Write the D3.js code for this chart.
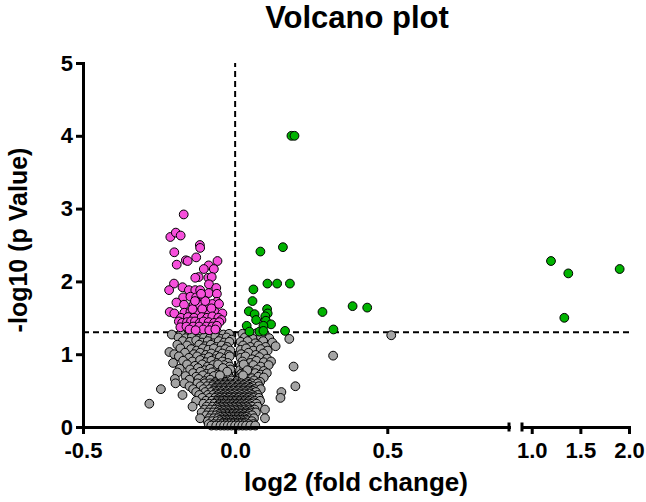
<!DOCTYPE html>
<html><head><meta charset="utf-8">
<script src="https://cdn.jsdelivr.net/npm/d3@7"></script>
<style>
body{margin:0;background:#fff}
svg{display:block}
text{font-family:"Liberation Sans",Arial,sans-serif;font-weight:bold;fill:#000}
</style>
</head><body>
<svg id="c" width="646" height="502"></svg>
<script>
// ---------- data ----------
const xTicksLeft = [-0.5, 0.0, 0.5];
const xTickLabelsLeft = ["-0.5", "0.0", "0.5"];
const xTicksRight = [1.0, 1.5, 2.0];
const xTickLabelsRight = ["1.0", "1.5", "2.0"];
const yTicks = [0, 1, 2, 3, 4, 5];
const yTickLabels = ["0", "1", "2", "3", "4", "5"];
const pThreshold = 1.301; // -log10(0.05)
const fcThreshold = 0.0;

// grey (not significant), upper part: [log2 FC, -log10 p]
const grayUpper = [
 [-0.208,1.27],[-0.178,1.28],[-0.152,1.26],[-0.131,1.29],[-0.112,1.27],[-0.093,1.28],[-0.074,1.26],[-0.056,1.29],[-0.038,1.27],[-0.02,1.28],
 [0.024,1.28],[0.046,1.26],[0.071,1.29],[0.098,1.27],
 [-0.186,1.23],[-0.163,1.22],[-0.142,1.24],[-0.121,1.21],[-0.102,1.23],[-0.083,1.22],[-0.065,1.24],[-0.047,1.21],[-0.028,1.23],[-0.012,1.2],
 [0.032,1.23],[0.058,1.21],[0.085,1.24],[0.112,1.22],[0.178,1.21],
 [-0.172,1.18],[-0.149,1.17],[-0.128,1.19],[-0.109,1.16],[-0.09,1.18],[-0.072,1.15],[-0.054,1.18],[-0.036,1.16],[-0.019,1.17],
 [0.018,1.17],[0.041,1.18],[0.066,1.15],[0.092,1.18],[0.122,1.16],
 [-0.19,1.13],[-0.158,1.12],[-0.118,1.13],[-0.098,1.11],[-0.08,1.13],[-0.062,1.1],[-0.044,1.12],[-0.026,1.1],
 [0.026,1.12],[0.05,1.1],[0.076,1.12],[0.1,1.1],[0.133,1.11],
 [-0.18,1.08],[-0.145,1.07],[-0.126,1.05],[-0.106,1.08],[-0.088,1.06],[-0.07,1.08],[-0.05,1.05],[-0.032,1.07],[-0.016,1.05],
 [0.018,1.06],[0.036,1.08],[0.06,1.05],[0.084,1.07],[0.107,1.05],
 [-0.216,1.03],[-0.2,1.0],[-0.165,1.02],[-0.135,1.0],[-0.115,1.02],[-0.096,0.99],[-0.078,1.01],[-0.06,0.98],[-0.042,1.01],[-0.022,0.99],
 [0.02,1.0],[0.044,1.02],[0.068,0.99],[0.092,1.01],
 [-0.185,0.97],[-0.152,0.95],[-0.125,0.97],[-0.105,0.94],[-0.086,0.96],[-0.068,0.93],[-0.05,0.96],[-0.032,0.94],[-0.018,0.97],
 [0.018,0.95],[0.034,0.97],[0.056,0.93],[0.08,0.96],[0.105,0.94],
 [-0.171,0.91],[-0.14,0.9],[-0.115,0.92],[-0.096,0.89],[-0.078,0.91],[-0.06,0.88],[-0.042,0.9],[-0.024,0.88],
 [0.024,0.9],[0.05,0.88],[0.07,0.91],[0.094,0.89],[0.118,0.9],
 [-0.204,0.88],[-0.158,0.86],[-0.132,0.84],[-0.108,0.86],[-0.09,0.83],[-0.072,0.85],[-0.054,0.82],[-0.036,0.85],[-0.018,0.83],
 [0.018,0.84],[0.038,0.82],[0.06,0.85],[0.084,0.83],[0.11,0.85],[0.192,0.83],
 [-0.182,0.8],[-0.148,0.79],[-0.122,0.81],[-0.1,0.78],[-0.082,0.8],[-0.064,0.77],[-0.046,0.79],[-0.03,0.77],[-0.016,0.79],
 [0.016,0.78],[0.03,0.8],[0.05,0.77],[0.072,0.79],[0.094,0.77],
 [-0.19,0.75],[-0.138,0.74],[-0.114,0.76],[-0.094,0.73],[-0.076,0.75],[-0.058,0.72],[-0.04,0.74],[-0.022,0.72],
 [0.02,0.73],[0.034,0.75],[0.05,0.72],[0.066,0.74],[0.084,0.72],[0.104,0.74],
 [-0.163,0.7],[-0.128,0.69],[-0.106,0.71],[-0.088,0.68],[-0.07,0.7],[-0.052,0.67],[-0.034,0.69],[-0.016,0.67],
 [0.018,0.68],[0.036,0.7],[0.056,0.67],[0.076,0.69],[0.094,0.68],
 [-0.198,0.66],[-0.15,0.65],[-0.12,0.66],[-0.1,0.63],[-0.082,0.65],[-0.064,0.62],[-0.046,0.64],[-0.03,0.62],[-0.012,0.64],
 [0.006,0.63],[0.024,0.65],[0.042,0.62],[0.062,0.64],[0.082,0.62],
 [-0.056,0.86],[-0.04,0.81],[-0.026,0.76],[-0.05,0.71],[0.028,0.86],[0.04,0.78],[0.026,0.71],
 [0.513,1.26],[0.322,0.98]
];
// grey (not significant), dense lower core: rows of [ -log10 p , [log2 FC ...] ]
const grayCoreRows = [
 [0.60, [-0.196,-0.167,-0.124,-0.1,-0.082,-0.066,-0.048,-0.032,-0.016,0.002,0.02,0.036,0.054,0.074]],
 [0.58, [-0.074,-0.056,-0.04,-0.024,-0.008,0.01,0.028,0.046]],
 [0.56, [-0.15,-0.114,-0.092,-0.074,-0.058,-0.042,-0.026,-0.01,0.008,0.024,0.04,0.058,0.078,0.198]],
 [0.54, [-0.066,-0.05,-0.034,-0.018,0.0,0.016,0.032,0.05]],
 [0.52, [-0.244,-0.138,-0.104,-0.084,-0.068,-0.052,-0.036,-0.02,-0.004,0.012,0.028,0.046,0.064,0.084]],
 [0.50, [-0.07,-0.054,-0.038,-0.022,-0.006,0.01,0.026,0.042,0.058]],
 [0.48, [-0.128,-0.098,-0.078,-0.062,-0.046,-0.03,-0.014,0.002,0.018,0.034,0.05,0.068,0.152]],
 [0.46, [-0.064,-0.048,-0.032,-0.016,0.0,0.016,0.032,0.048]],
 [0.44, [-0.173,-0.118,-0.09,-0.072,-0.056,-0.04,-0.025,-0.01,0.006,0.022,0.038,0.056,0.074]],
 [0.42, [-0.062,-0.046,-0.032,-0.018,-0.002,0.014,0.03,0.046,0.062]],
 [0.40, [-0.108,-0.084,-0.066,-0.05,-0.035,-0.02,-0.005,0.01,0.026,0.042,0.06,0.078,0.149]],
 [0.38, [-0.058,-0.042,-0.028,-0.012,0.004,0.02,0.036,0.052]],
 [0.36, [-0.128,-0.096,-0.076,-0.06,-0.044,-0.03,-0.015,0.0,0.015,0.03,0.046,0.064,0.082]],
 [0.34, [-0.06,-0.046,-0.03,-0.016,-0.002,0.012,0.028,0.042,0.058]],
 [0.32, [-0.282,-0.104,-0.084,-0.068,-0.052,-0.038,-0.022,-0.008,0.006,0.02,0.036,0.052,0.07]],
 [0.30, [-0.054,-0.04,-0.026,-0.012,0.002,0.016,0.03,0.046]],
 [0.28, [-0.14,-0.094,-0.074,-0.058,-0.044,-0.03,-0.016,-0.002,0.012,0.026,0.04,0.056,0.074]],
 [0.26, [-0.056,-0.042,-0.028,-0.014,0.0,0.014,0.028,0.044]],
 [0.24, [-0.1,-0.082,-0.066,-0.052,-0.038,-0.024,-0.01,0.004,0.018,0.032,0.048,0.064,0.098]],
 [0.22, [-0.05,-0.036,-0.022,-0.008,0.006,0.02,0.036,0.052]],
 [0.20, [-0.11,-0.088,-0.072,-0.058,-0.044,-0.03,-0.018,-0.005,0.008,0.02,0.034,0.05,0.068]],
 [0.18, [-0.052,-0.038,-0.024,-0.01,0.004,0.018,0.032,0.046]],
 [0.16, [-0.095,-0.078,-0.063,-0.05,-0.036,-0.024,-0.012,0.0,0.012,0.025,0.04,0.056]],
 [0.14, [-0.048,-0.034,-0.02,-0.006,0.008,0.022,0.036]],
 [0.12, [-0.115,-0.085,-0.07,-0.056,-0.042,-0.03,-0.018,-0.006,0.006,0.018,0.03,0.045,0.062,0.098]],
 [0.10, [-0.05,-0.036,-0.024,-0.012,0.0,0.012,0.024,0.038]],
 [0.08, [-0.09,-0.075,-0.06,-0.046,-0.034,-0.022,-0.01,0.002,0.014,0.026,0.04,0.055]],
 [0.06, [-0.04,-0.028,-0.016,-0.004,0.008,0.02,0.032]],
 [0.04, [-0.087,-0.07,-0.055,-0.042,-0.03,-0.018,-0.006,0.006,0.018,0.03,0.044,0.06]],
 [0.02, [-0.078,-0.062,-0.048,-0.036,-0.024,-0.012,0.0,0.012,0.024,0.036,0.05,0.066]]
];

// down-regulated, significant (magenta): [log2 FC, -log10 p]
const downPoints = [
 [-0.169,2.92],[-0.213,2.61],[-0.195,2.67],[-0.179,2.63],[-0.116,2.50],[-0.115,2.46],
 [-0.2,2.40],[-0.192,2.23],[-0.162,2.29],[-0.156,2.28],[-0.128,2.33],[-0.058,2.28],
 [-0.087,2.22],[-0.103,2.17],[-0.07,2.17],[-0.12,2.06],[-0.131,2.05],[-0.088,2.05],
 [-0.077,2.06],[-0.201,1.97],[-0.217,1.88],[-0.173,1.92],[-0.152,1.88],[-0.131,1.88],
 [-0.115,1.88],[-0.086,1.96],[-0.062,1.91],[-0.171,1.78],[-0.147,1.79],[-0.128,1.78],
 [-0.103,1.78],[-0.087,1.84],[-0.06,1.83],[-0.06,1.72],[-0.193,1.71],[-0.168,1.68],
 [-0.136,1.68],[-0.117,1.68],[-0.095,1.66],[-0.075,1.69],[-0.053,1.69],[-0.215,1.58],
 [-0.2,1.56],[-0.167,1.57],[-0.147,1.58],[-0.124,1.56],[-0.1,1.57],[-0.085,1.57],
 [-0.067,1.58],[-0.042,1.56],[-0.14,1.62],[-0.108,1.62],[-0.078,1.63],[-0.098,1.73],
 [-0.132,1.73],[-0.112,1.83],[-0.178,1.50],[-0.155,1.51],[-0.135,1.50],[-0.11,1.51],
 [-0.092,1.50],[-0.075,1.52],[-0.055,1.50],[-0.045,1.47],[-0.185,1.45],[-0.174,1.43],
 [-0.158,1.44],[-0.145,1.45],[-0.132,1.45],[-0.116,1.43],[-0.104,1.45],[-0.087,1.44],
 [-0.069,1.43],[-0.052,1.44],[-0.18,1.37],[-0.16,1.38],[-0.138,1.38],[-0.118,1.38],
 [-0.095,1.38],[-0.075,1.38],[-0.06,1.39],[-0.15,1.34],[-0.105,1.34],[-0.13,1.33],
 [-0.085,1.33],[-0.065,1.34]
];

// up-regulated, significant (green): [log2 FC, -log10 p]
const upPoints = [
 [0.185,4.0],[0.195,4.0],[0.083,2.41],[0.157,2.47],[0.106,1.97],[0.138,1.97],[0.18,1.97],
 [0.06,1.89],[0.057,1.73],[0.045,1.59],[0.064,1.55],[0.105,1.62],[0.107,1.56],[0.099,1.52],
 [0.069,1.47],[0.101,1.46],[0.118,1.41],[0.038,1.39],[0.093,1.39],[0.047,1.31],[0.08,1.31],
 [0.093,1.32],[0.164,1.32],[0.287,1.58],[0.323,1.34],[0.386,1.66],[0.434,1.64],
 [1.198,2.28],[1.376,2.11],[1.904,2.17],[1.335,1.50]
];

// ---------- drawing ----------
const svg = d3.select("#c");
const breakAt = 0.9;
const xL = d3.scaleLinear().domain([-0.5, breakAt]).range([83, 509]);
const xR = d3.scaleLinear().domain([breakAt, 2.0]).range([522, 629]);
const y = d3.scaleLinear().domain([0, 5]).range([427, 63]);
const xPos = v => v <= breakAt ? xL(v) : xR(v);

const grayPoints = grayUpper.slice();
grayCoreRows.forEach(([yy, xs]) => xs.forEach(xx => grayPoints.push([xx, yy])));

// threshold lines
svg.append("line")
  .attr("x1", xL(fcThreshold)).attr("x2", xL(fcThreshold))
  .attr("y1", y(0)).attr("y2", y(5))
  .attr("stroke", "#000").attr("stroke-width", 2).attr("stroke-dasharray", "6,4");
svg.append("line")
  .attr("x1", xL(-0.5)).attr("x2", xR(2.0))
  .attr("y1", y(pThreshold)).attr("y2", y(pThreshold))
  .attr("stroke", "#000").attr("stroke-width", 2).attr("stroke-dasharray", "6,4");

const R = 4.4;
function drawPts(data, fill) {
  svg.append("g").selectAll("circle").data(data).join("circle")
    .attr("cx", d => xPos(d[0])).attr("cy", d => y(d[1])).attr("r", R)
    .attr("fill", fill).attr("stroke", "#000").attr("stroke-width", 1);
}
drawPts(grayPoints, "#a4a4a4");
drawPts(downPoints, "#f64fdb");
drawPts(upPoints, "#00b300");

// axes
function styleAxis(g, fs) {
  g.select(".domain").attr("stroke-width", 3).attr("stroke-linecap", "square");
  g.selectAll(".tick line").attr("stroke-width", 3);
  g.selectAll(".tick text").attr("font-size", fs).attr("font-weight", "bold")
    .attr("font-family", '"Liberation Sans", Arial, sans-serif');
}
const gxL = svg.append("g").attr("transform", `translate(0,${y(0)})`)
  .call(d3.axisBottom(xL).tickValues(xTicksLeft).tickFormat((d, i) => xTickLabelsLeft[i])
    .tickSize(7).tickSizeOuter(0).tickPadding(8));
styleAxis(gxL, 22);
const gxR = svg.append("g").attr("transform", `translate(0,${y(0)})`)
  .call(d3.axisBottom(xR).tickValues(xTicksRight).tickFormat((d, i) => xTickLabelsRight[i])
    .tickSize(7).tickSizeOuter(0).tickPadding(8));
styleAxis(gxR, 22);
const gy = svg.append("g").attr("transform", `translate(${xL(-0.5)},0)`)
  .call(d3.axisLeft(y).tickValues(yTicks).tickFormat((d, i) => yTickLabels[i])
    .tickSize(7).tickSizeOuter(0).tickPadding(3));
styleAxis(gy, 22);

// break marks
[xL(breakAt), xR(breakAt)].forEach(px => {
  svg.append("line").attr("x1", px).attr("x2", px)
    .attr("y1", y(0) - 4.5).attr("y2", y(0) + 4.5)
    .attr("stroke", "#000").attr("stroke-width", 3);
});

// titles
svg.append("text").attr("x", 357).attr("y", 28).attr("text-anchor", "middle")
  .attr("font-size", 31).text("Volcano plot");
svg.append("text").attr("x", 356).attr("y", 491).attr("text-anchor", "middle")
  .attr("font-size", 26).text("log2 (fold change)");
svg.append("text").attr("transform", "translate(27,240) rotate(-90)").attr("text-anchor", "middle")
  .attr("font-size", 25).text("-log10 (p Value)");
</script>
</body></html>
